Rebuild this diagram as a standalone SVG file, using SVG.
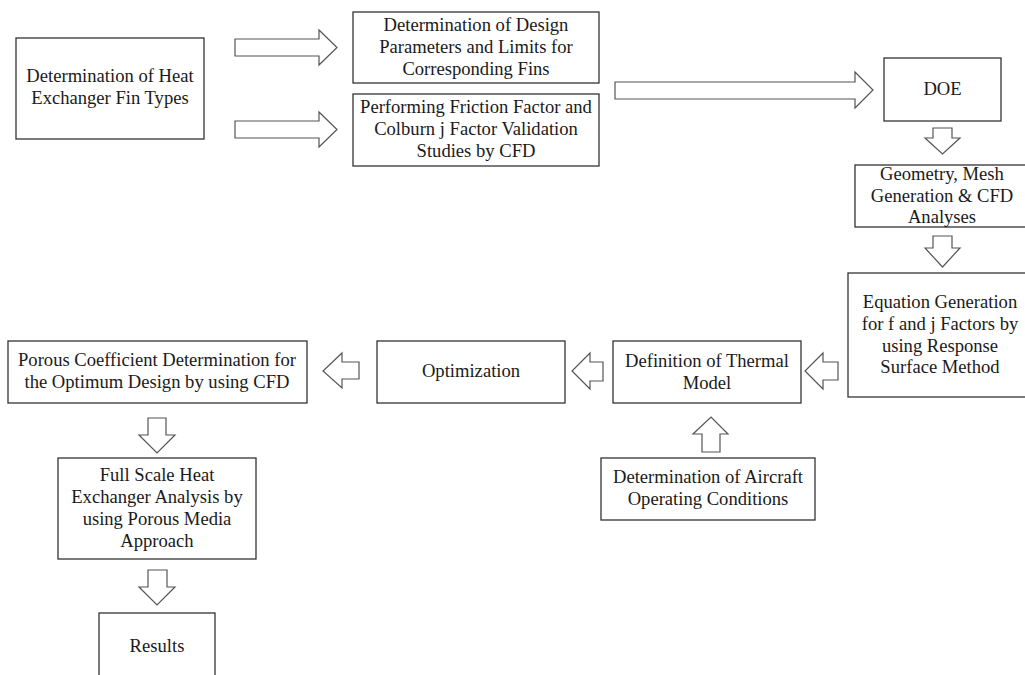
<svg xmlns="http://www.w3.org/2000/svg" width="1025" height="675" viewBox="0 0 1025 675">
<style>
.box{fill:#fff;stroke:#333;stroke-width:1.3}
.arr{fill:#fff;stroke:#555;stroke-width:1.2;stroke-linejoin:miter}
.t text{font-size:18.6px;fill:#1a1a1a;text-anchor:middle}
</style>
<rect width="1025" height="675" fill="#fff"/>
<g id="connectors">
<polygon class="arr" points="235,39 319,39 319,30 337,47.5 319,65 319,56 235,56"/>
<polygon class="arr" points="235,121 319,121 319,112 337,129.5 319,147 319,138 235,138"/>
<polygon class="arr" points="615,82 855,82 855,72 873,90 855,108 855,99 615,99"/>
<polygon class="arr" points="933,128 952,128 952,138 960,138 942.5,154 925,138 933,138"/>
<polygon class="arr" points="933,236 952,236 952,248 960,248 942.5,267 925,248 933,248"/>
<polygon class="arr" points="838,362 823,362 823,353 805,371 823,389 823,380 838,380"/>
<polygon class="arr" points="603,362 590,362 590,353 572,371 590,389 590,381 603,381"/>
<polygon class="arr" points="359,362 342,362 342,353 323,371 342,388 342,379 359,379"/>
<polygon class="arr" points="702,452 702,434 693,434 711,417 728,434 720,434 720,452"/>
<polygon class="arr" points="148,418 166,418 166,435 175,435 157,453 139,435 148,435"/>
<polygon class="arr" points="148,570 167,570 167,587 175,587 157,605 139,587 148,587"/>
</g>
<g class="t" font-family="'Liberation Serif', 'Times New Roman', 'DejaVu Serif', serif">
<g id="n1"><rect class="box" x="16" y="38" width="188" height="101"/>
<text x="110" y="82">Determination of Heat</text><text x="110" y="104">Exchanger Fin Types</text></g>
<g id="n2"><rect class="box" x="353" y="12" width="246" height="71"/>
<text x="476" y="31">Determination of Design</text><text x="476" y="53">Parameters and Limits for</text><text x="476" y="75">Corresponding Fins</text></g>
<g id="n3"><rect class="box" x="353" y="94" width="246" height="72"/>
<text x="476" y="113">Performing Friction Factor and</text><text x="476" y="135">Colburn j Factor Validation</text><text x="476" y="157">Studies by CFD</text></g>
<g id="n4"><rect class="box" x="884" y="58" width="117" height="63"/>
<text x="942.5" y="95">DOE</text></g>
<g id="n5"><rect class="box" x="855" y="165" width="180" height="62"/>
<text x="942" y="180">Geometry, Mesh</text><text x="942" y="202">Generation &amp; CFD</text><text x="942" y="223">Analyses</text></g>
<g id="n6"><rect class="box" x="848" y="273" width="190" height="124"/>
<text x="940" y="308">Equation Generation</text><text x="940" y="330">for f and j Factors by</text><text x="940" y="352">using Response</text><text x="940" y="373">Surface Method</text></g>
<g id="n7"><rect class="box" x="613" y="341" width="188" height="62"/>
<text x="707" y="367">Definition of Thermal</text><text x="707" y="389">Model</text></g>
<g id="n8"><rect class="box" x="377" y="341" width="188" height="62"/>
<text x="471" y="377">Optimization</text></g>
<g id="n9"><rect class="box" x="8" y="341" width="299" height="62"/>
<text x="157" y="366">Porous Coefficient Determination for</text><text x="157" y="388">the Optimum Design by using CFD</text></g>
<g id="n10"><rect class="box" x="601" y="458" width="214" height="62"/>
<text x="708" y="483">Determination of Aircraft</text><text x="708" y="505">Operating Conditions</text></g>
<g id="n11"><rect class="box" x="58" y="458" width="198" height="101"/>
<text x="157" y="481">Full Scale Heat</text><text x="157" y="503">Exchanger Analysis by</text><text x="157" y="525">using Porous Media</text><text x="157" y="547">Approach</text></g>
<g id="n12"><rect class="box" x="99" y="613" width="116" height="80"/>
<text x="157" y="652">Results</text></g>
</g>
</svg>
